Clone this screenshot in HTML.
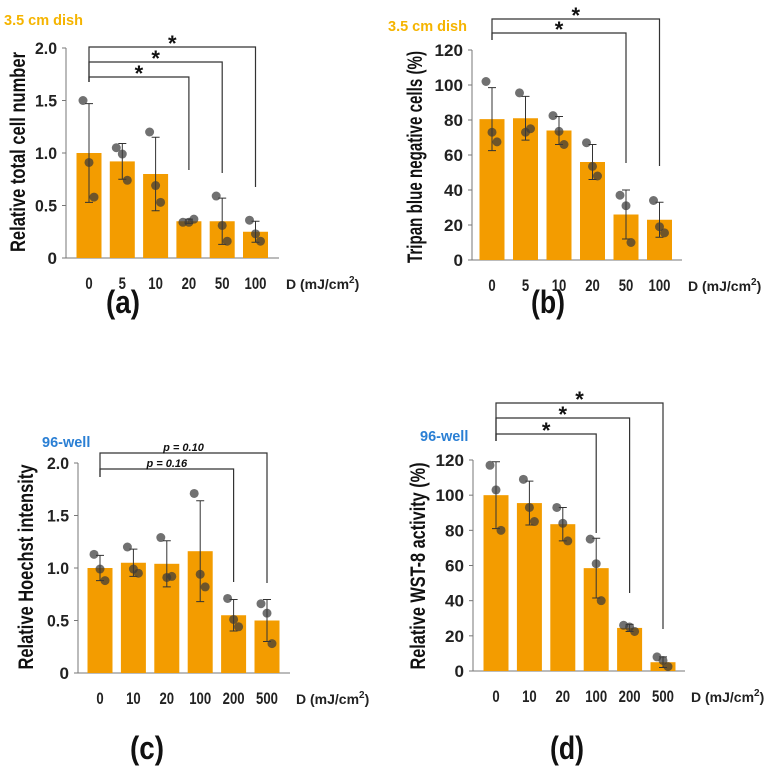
<!DOCTYPE html>
<html><head><meta charset="utf-8"><style>
body{margin:0;background:#fff;}
svg{display:block;font-family:"Liberation Sans Narrow","Liberation Sans",Arial,sans-serif;}
</style></head><body>
<svg id="fig" width="765" height="775" viewBox="0 0 765 775"></svg>
<script>
const catsA=["0","5","10","20","50","100"];
const meanA=[1.0,0.92,0.80,0.35,0.35,0.25];
const errA=[0.47,0.17,0.35,0.02,0.22,0.1];
const dotsA=[[1.5,0.91,0.58],[1.05,0.99,0.74],[1.2,0.69,0.53],[0.34,0.34,0.37],[0.59,0.31,0.16],[0.36,0.23,0.16]];
const ticksA=[0,0.5,1.0,1.5,2.0];
const tickLabA=["0","0.5","1.0","1.5","2.0"];

const catsB=["0","5","10","20","50","100"];
const meanB=[80.5,81,74,56,26,23];
const errB=[18,12.5,8,10,14,10];
const dotsB=[[102,73,67.5],[95.5,73,75],[82.5,73.5,66],[67,53.5,48],[37,31,10],[34,19,15.5]];
const ticksB=[0,20,40,60,80,100,120];

const catsC=["0","10","20","100","200","500"];
const meanC=[1.0,1.05,1.04,1.16,0.55,0.50];
const errC=[0.12,0.13,0.22,0.48,0.15,0.2];
const dotsC=[[1.13,0.99,0.88],[1.2,0.99,0.95],[1.29,0.91,0.92],[1.71,0.94,0.82],[0.71,0.51,0.44],[0.66,0.57,0.28]];
const ticksC=[0,0.5,1.0,1.5,2.0];
const tickLabC=["0","0.5","1.0","1.5","2.0"];

const catsD=["0","10","20","100","200","500"];
const meanD=[100,95.5,83.5,58.5,24.5,5];
const errD=[19,12.5,9.5,17,2,3];
const dotsD=[[117,103,80],[109,93,85],[93,84,74],[75,61,40],[26,25,22.5],[8,6,2.5]];
const ticksD=[0,20,40,60,80,100,120];

const NS="http://www.w3.org/2000/svg";
const svg=document.getElementById('fig');
function el(tag,attrs,parent,text){const e=document.createElementNS(NS,tag);for(const k in attrs)e.setAttribute(k,attrs[k]);if(text!==undefined)e.textContent=text;(parent||svg).appendChild(e);return e;}
const dotOff=[-6,0,5];

function panel(p){
  const g=el('g',{});
  
  
  const ymax=p.ticks[p.ticks.length-1];
  const y=v=>p.y0-(v/ymax)*(p.y0-p.yTop);
  const x=i=>p.x0c+i*p.step;
  const ax=el('line',{x1:p.ax,y1:p.yTop,x2:p.ax,y2:p.y0,stroke:'#777','stroke-width':1},g);
  
  const bx=el('line',{x1:p.ax,y1:p.y0,x2:p.axEnd,y2:p.y0,stroke:'#777','stroke-width':1},g);
  
  p.ticks.forEach((t,i)=>{
    el('line',{x1:p.ax-4,y1:y(t),x2:p.ax,y2:y(t),stroke:'#777'},g);
    const lab=p.tickLab?p.tickLab[i]:String(t);
    const w=lab.indexOf('.')>=0?22:lab.length*9.5;
    const tl=el('text',{x:p.ax-9,y:y(t)+6,'text-anchor':'end','font-size':17,'font-weight':'bold',fill:'#222',textLength:w,lengthAdjust:'spacingAndGlyphs'},g,lab);
    
  });
  p.cats.forEach((c,i)=>{
    const b=el('rect',{x:x(i)-12.5,y:y(p.mean[i]),width:25,height:p.y0-y(p.mean[i]),fill:'#f39c00'},g);
    
    const hi=y(p.mean[i]+p.err[i]),lo=y(Math.max(0,p.mean[i]-p.err[i]));
    const eb=el('path',{d:`M${x(i)},${hi}V${lo}M${x(i)-4},${hi}H${x(i)+4}M${x(i)-4},${lo}H${x(i)+4}`,stroke:'#333','stroke-width':1,fill:'none'},g);
    
    p.dots[i].forEach((v,j)=>{
      const d=el('circle',{cx:x(i)+dotOff[j],cy:y(v),r:4.5,fill:'#3a3a3a','fill-opacity':0.72},g);
      
    });
    const xl=el('text',{x:x(i),y:p.y0+31,'text-anchor':'middle','font-size':17,'font-weight':'bold',fill:'#222',textLength:c.length*7.3,lengthAdjust:'spacingAndGlyphs'},g,c);
    
  });
  const u=el('text',{x:p.unitX,y:p.y0+31,'font-size':14,'font-weight':'bold',fill:'#222'},g);
  u.innerHTML='D (mJ/cm<tspan dy="-6" font-size="10">2</tspan><tspan dy="6">)</tspan>';
  
  const yt=el('text',{x:0,y:0,transform:`translate(${p.ytX},${p.ytY}) rotate(-90)`,'text-anchor':'middle','font-size':21,'font-weight':'bold',fill:'#111',textLength:p.ytLen,lengthAdjust:'spacingAndGlyphs'},g,p.ytitle);
  
  const lb=el('text',{x:p.labX,y:p.labY,'text-anchor':'middle','font-size':32,'font-weight':'bold',fill:'#111',textLength:34,lengthAdjust:'spacingAndGlyphs'},g,p.label);
  
  const st=el('text',{x:p.subX,y:p.subY,'font-size':14.5,'font-weight':'bold',fill:p.subColor,'font-family':'"Liberation Sans",Arial,sans-serif'},g,p.sub);
  
  p.br.forEach(b=>{
    const bb=el('path',{d:`M${x(0)},${p.leftDown}V${b.y}H${x(b.to)}V${b.down}`,stroke:'#333','stroke-width':1.2,fill:'none'},g);
    
    const mid=(x(0)+x(b.to))/2;
    const s=el('text',{x:mid,y:b.txt==='*'?b.y+4:b.y-2,'text-anchor':'middle','font-size':b.txt==='*'?22:11,'font-weight':'bold','font-style':b.txt==='*'?'normal':'italic',fill:'#111','font-family':'"Liberation Sans",Arial,sans-serif'},g,b.txt);
    
  });
}

panel({name:'panel-a',cats:catsA,mean:meanA,err:errA,dots:dotsA,ticks:ticksA,tickLab:tickLabA,
 ax:66,axEnd:279,y0:258,yTop:48,x0c:89,step:33.3,unitX:286,ytitle:'Relative total cell number',ytX:25,ytY:152,ytLen:200,
 label:'(a)',labX:123,labY:313,sub:'3.5 cm dish',subX:4,subY:25,subColor:'#f5b400',leftDown:82,
 br:[{to:3,y:77,down:170,txt:'*'},{to:4,y:62,down:173,txt:'*'},{to:5,y:47,down:187,txt:'*'}]});
panel({name:'panel-b',cats:catsB,mean:meanB,err:errB,dots:dotsB,ticks:ticksB,
 ax:472,axEnd:682,y0:260,yTop:50,x0c:492,step:33.5,unitX:688,ytitle:'Tripan blue negative cells (%)',ytX:422,ytY:157,ytLen:212,
 label:'(b)',labX:548,labY:313,sub:'3.5 cm dish',subX:388,subY:31,subColor:'#f5b400',leftDown:40,
 br:[{to:4,y:33,down:163,txt:'*'},{to:5,y:19,down:166,txt:'*'}]});
panel({name:'panel-c',cats:catsC,mean:meanC,err:errC,dots:dotsC,ticks:ticksC,tickLab:tickLabC,
 ax:78,axEnd:290,y0:673,yTop:463,x0c:100,step:33.4,unitX:296,ytitle:'Relative Hoechst intensity',ytX:33,ytY:567,ytLen:205,
 label:'(c)',labX:147,labY:759,sub:'96-well',subX:42,subY:447,subColor:'#2a7fd4',leftDown:477,
 br:[{to:4,y:469,down:582,txt:'p = 0.16'},{to:5,y:453,down:583,txt:'p = 0.10'}]});
panel({name:'panel-d',cats:catsD,mean:meanD,err:errD,dots:dotsD,ticks:ticksD,
 ax:473,axEnd:685,y0:671,yTop:460,x0c:496,step:33.4,unitX:691,ytitle:'Relative WST-8 activity (%)',ytX:425,ytY:566,ytLen:207,
 label:'(d)',labX:567,labY:759,sub:'96-well',subX:420,subY:441,subColor:'#2a7fd4',leftDown:441,
 br:[{to:3,y:434,down:533,txt:'*'},{to:4,y:418,down:593,txt:'*'},{to:5,y:403,down:629,txt:'*'}]});
</script>
</body></html>
